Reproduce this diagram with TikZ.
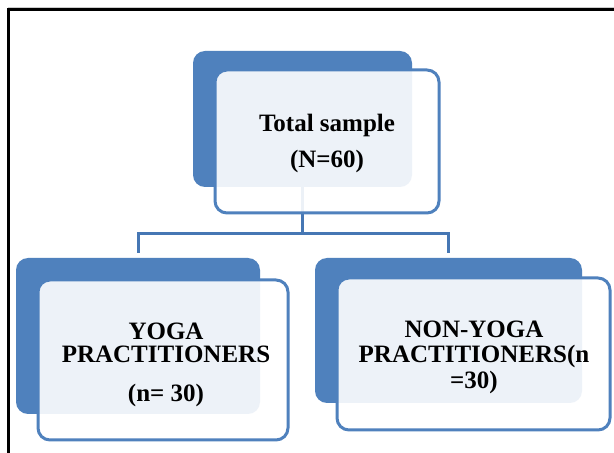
\documentclass[tikz,border=0pt]{standalone}
\usepackage{fontspec}
\setmainfont{Liberation Serif}
\definecolor{accblue}{HTML}{4F81BD}
\definecolor{linkblue}{HTML}{4677B4}
\begin{document}
\begin{tikzpicture}[x=1pt,y=1pt,
  backbox/.style={rectangle, rounded corners=12pt, fill=accblue, draw=none, inner sep=0pt, outer sep=0pt},
  frontbox/.style={rectangle, rounded corners=12pt, draw=accblue, line width=3pt, fill=white, fill opacity=0.9, inner sep=0pt, outer sep=0pt},
  label/.style={align=center, font=\fontsize{25}{23}\selectfont\bfseries, text=black, inner sep=0pt},
  link/.style={draw=linkblue, line width=3pt}]
\useasboundingbox (0,0) rectangle (614,453);
\fill[white] (0,0) rectangle (614,453);
% frame
\draw[gray!40, line width=0.8pt] (8,445.5) -- (614,445.5);
\draw[black, line width=3pt] (8,0) -- (8,443) -- (614,443);
% back boxes
\node[backbox, minimum width=219pt, minimum height=136pt] (topback) at (302.5,334) {};
\node[backbox, minimum width=244pt, minimum height=156pt] (leftback) at (138,117) {};
\node[backbox, minimum width=267pt, minimum height=145pt] (rightback) at (448.5,122.5) {};
% connectors
\coordinate (mid) at (302.5,219);
\draw[link] (topback.south) -- (mid);
\draw[link, shorten >=5pt] (mid) -| (leftback.north);
\draw[link, shorten >=5pt] (mid) -| (rightback.north);
% front boxes
\node[frontbox, minimum width=224pt, minimum height=143pt] (topfront) at (327,311.5) {};
\node[frontbox, minimum width=250pt, minimum height=160pt] (leftfront) at (163,93) {};
\node[frontbox, minimum width=273pt, minimum height=152pt] (rightfront) at (473.5,99) {};
% texts
\node[label] (toptext) at (327,310) {Total sample\\[13pt](N=60)};
\node[label] (lefttext) at (166,88) {YOGA\\PRACTITIONERS\\[16pt](n= 30)};
\node[label] (righttext) at (474,96) {NON-YOGA\\[2pt]PRACTITIONERS(n\\[3pt]=30)};
\end{tikzpicture}
\end{document}
